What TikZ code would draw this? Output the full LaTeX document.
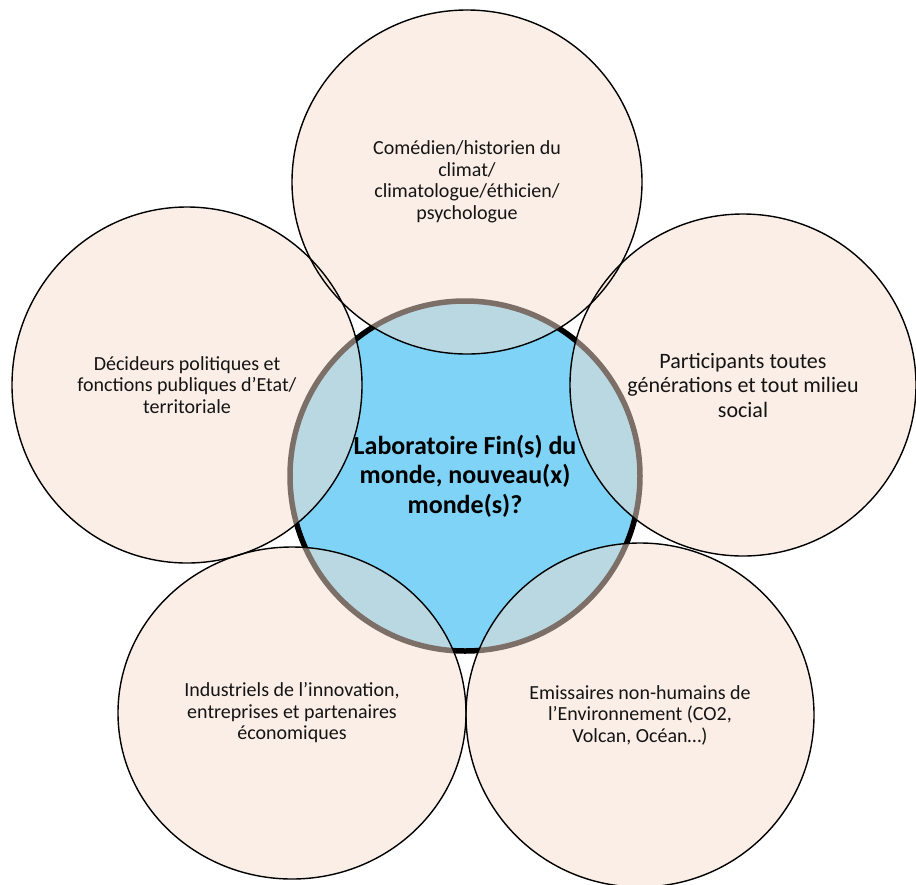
\documentclass[tikz,border=0pt]{standalone}
\usepackage{fontspec}
\setmainfont{Carlito}
\usetikzlibrary{shapes.geometric}
\definecolor{cblue}{RGB}{126,211,246}
\definecolor{cbeige}{RGB}{246,222,206}
\definecolor{ctext}{RGB}{20,20,20}
\begin{document}
\begin{tikzpicture}[x=1pt,y=-1pt,
  outer/.style={ellipse, inner sep=0pt, fill=cbeige, fill opacity=0.5,
    text opacity=1, text=ctext, align=center, font=\fontsize{20}{21.5}\selectfont},
  rim/.style={draw=black, line width=1.4pt},
  hub/.style={circle, minimum size=350pt, inner sep=0pt, fill=cblue, draw=black, line width=5.5pt},
  hubtext/.style={align=center, text=black, font=\fontsize{26}{29.5}\selectfont\bfseries}]
\useasboundingbox (0,0) rectangle (916,884);
\node[hub] (c) at (465,476) {};
\node[outer, minimum width=350pt, minimum height=344pt] (top) at (467,182) {Comédien/historien du\\climat/\\climatologue/éthicien/\\psychologue};
\node[outer, minimum width=346pt, minimum height=342pt, font=\fontsize{22}{24.5}\selectfont] (right) at (743,385) {Participants toutes\\générations et tout milieu\\social};
\node[outer, minimum width=348pt, minimum height=344pt] (br) at (640,715) {Emissaires non-humains de\\l’Environnement (CO2,\\Volcan, Océan…)};
\node[outer, minimum width=348pt, minimum height=332pt] (bl) at (292,713) {Industriels de l’innovation,\\entreprises et partenaires\\économiques};
\node[outer, minimum width=350pt, minimum height=356pt] (left) at (187,385) {Décideurs politiques et\\fonctions publiques d’Etat/\\territoriale};
\draw[rim] (top.center) ellipse [x radius=175pt, y radius=172pt];
\draw[rim] (right.center) ellipse [x radius=173pt, y radius=171pt];
\draw[rim] (br.center) ellipse [x radius=174pt, y radius=172pt];
\draw[rim] (bl.center) ellipse [x radius=174pt, y radius=166pt];
\draw[rim] (left.center) ellipse [x radius=175pt, y radius=178pt];
\node[hubtext] (ct) at (c) {Laboratoire Fin(s) du\\monde, nouveau(x)\\monde(s)?};
\end{tikzpicture}
\end{document}
